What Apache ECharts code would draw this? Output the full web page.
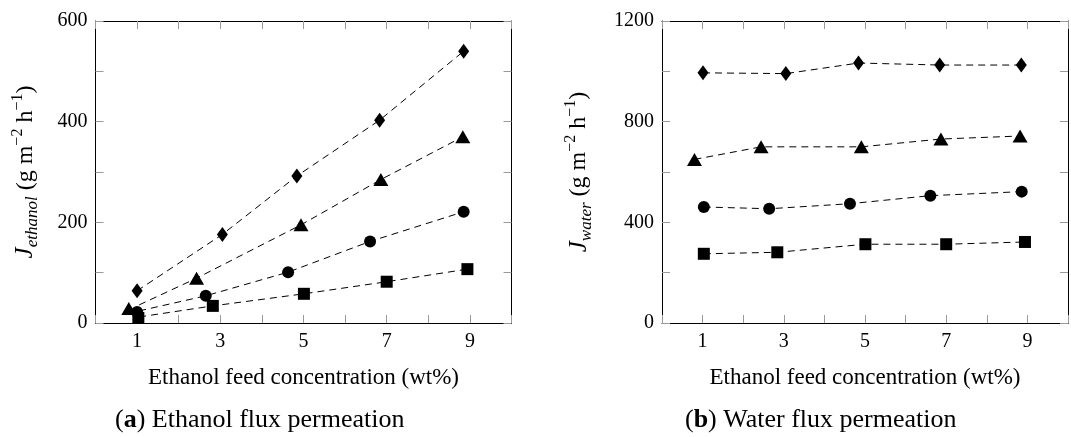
<!DOCTYPE html>
<html>
<head>
<meta charset="utf-8">
<script src="https://cdn.jsdelivr.net/npm/echarts@6/dist/echarts.min.js"></script>
<style>
html,body{margin:0;padding:0;background:#fff;}
#chart{width:1071px;height:437px;}
</style>
</head>
<body>
<div id="chart"></div>
<script>
// ---------- data ----------
// (a) Ethanol flux, g m^-2 h^-1  : [feed wt%, flux]
var ethDiamond  = [[1.0,64],[3.05,176],[4.84,292],[6.83,403],[8.85,540]];
var ethTriangle = [[0.80,29],[2.43,89],[4.94,195],[6.86,285],[8.83,370]];
var ethCircle   = [[1.0,22],[2.65,54],[4.63,101],[6.60,162],[8.85,221]];
var ethSquare   = [[1.03,10],[2.82,34],[5.01,58],[7.0,82],[8.94,107]];
// dashed trend lines of panel (a)
var ethDiamondTrend  = [[1.0,64],[3.05,176],[4.84,292],[6.83,403],[8.85,540]];
var ethTriangleTrend = [[1.05,36],[2.43,89],[4.94,195],[6.86,285],[8.83,370]];
var ethCircleTrend   = [[1.05,24],[2.65,54],[4.63,101],[6.60,162],[8.85,221]];
var ethSquareTrend   = [[1.05,12],[2.82,34],[5.01,58],[7.0,82],[8.94,107]];
// (b) Water flux
var watDiamond  = [[1.01,994],[3.05,991],[4.84,1033],[6.84,1025],[8.85,1025]];
var watTriangle = [[0.80,650],[2.44,700],[4.91,700],[6.87,731],[8.82,743]];
var watCircle   = [[1.03,461],[2.64,454],[4.63,474],[6.61,506],[8.86,522]];
var watSquare   = [[1.03,275],[2.84,281],[5.01,313],[7.0,313],[8.94,322]];
// axis settings / tick labels
var xTickLabels = [1,3,5,7,9];
var ethYLabels = [0,200,400,600];
var watYLabels = [0,400,800,1200];
var xLabel = 'Ethanol feed concentration (wt%)';

var FONT = '"Liberation Serif", "DejaVu Serif", serif';
var TICKC = '#9a9a9a';

function xAx(gi, pos, show){
  return {
    type:'value', gridIndex:gi, position:pos, min:0, max:10, interval:1,
    axisLine:{onZero:false, lineStyle:{color:'#000', width:1}},
    axisTick:{inside:true, length:8, lineStyle:{color:TICKC, width:1}},
    axisLabel:{show:show, margin:9, fontFamily:FONT, fontSize:20, color:'#000',
      formatter:function(v){ return xTickLabels.indexOf(v)>=0 ? String(v) : ''; }},
    splitLine:{show:false},
    name: show ? xLabel : '', nameLocation:'middle', nameGap:43,
    nameTextStyle:{fontFamily:FONT, fontSize:23, color:'#000'}
  };
}
function yAx(gi, pos, show, max, interval, labels, nameRich){
  return {
    type:'value', gridIndex:gi, position:pos, min:0, max:max, interval:interval,
    axisLine:{onZero:false, lineStyle:{color:'#000', width:1}},
    axisTick:{inside:true, length:8, lineStyle:{color:TICKC, width:1}},
    axisLabel:{show:show, margin:8, fontFamily:FONT, fontSize:20, color:'#000',
      formatter:function(v){ return labels.indexOf(v)>=0 ? String(v) : ''; }},
    splitLine:{show:false},
    name: show ? nameRich : '', nameLocation:'middle', nameRotate:90, nameGap: (max>600?67:54),
    nameTextStyle:{fontFamily:FONT, fontSize:24, color:'#000',
      rich:{
        J:{fontFamily:FONT, fontSize:25, fontStyle:'italic', color:'#000', lineHeight:32},
        sub:{fontFamily:FONT, fontSize:17, fontStyle:'italic', color:'#000', lineHeight:15, verticalAlign:'bottom'},
        n:{fontFamily:FONT, fontSize:24, color:'#000', lineHeight:32},
        sup:{fontFamily:FONT, fontSize:16, color:'#000', lineHeight:17, verticalAlign:'top'}
      }}
  };
}

var markers = [
  {sym:'diamond', size:[11,15]},
  {sym:'triangle', size:[15,13]},
  {sym:'circle', size:12},
  {sym:'rect', size:12}
];
var dash = {color:'#000', width:1, type:[7,5]};

function trendSeries(data, xi, yi){
  return {type:'line', data:data, xAxisIndex:xi, yAxisIndex:yi, showSymbol:false, symbol:'none',
    lineStyle:dash, z:2, silent:true, animation:false};
}
function markSeries(data, xi, yi, m){
  return {type:'scatter', data:data, xAxisIndex:xi, yAxisIndex:yi, symbol:m.sym, symbolSize:m.size,
    itemStyle:{color:'#000', opacity:1}, z:3, animation:false};
}
function lineMarkSeries(data, xi, yi, m){
  return {type:'line', data:data, xAxisIndex:xi, yAxisIndex:yi, symbol:m.sym, symbolSize:m.size,
    showAllSymbol:true, itemStyle:{color:'#000', opacity:1}, lineStyle:dash, z:3, animation:false};
}

var ethSets = [ethDiamond, ethTriangle, ethCircle, ethSquare];
var ethTrends = [ethDiamondTrend, ethTriangleTrend, ethCircleTrend, ethSquareTrend];
var watSets = [watDiamond, watTriangle, watCircle, watSquare];

var series = [];
ethTrends.forEach(function(d){ series.push(trendSeries(d,0,0)); });
ethSets.forEach(function(d,i){ series.push(markSeries(d,0,0,markers[i])); });
watSets.forEach(function(d,i){ series.push(lineMarkSeries(d,2,2,markers[i])); });

var option = {
  backgroundColor:'#fff',
  animation:false,
  grid:[
    {left:95.5, top:21, width:416, height:302},
    {left:662, top:21, width:416, height:302}
  ],
  xAxis:[ xAx(0,'bottom',true), xAx(0,'top',false), xAx(1,'bottom',true), xAx(1,'top',false) ],
  yAxis:[
    yAx(0,'left',true,600,100,ethYLabels,'{J|J}{sub|ethanol}{n| (g m}{sup|−2}{n| h}{sup|−1}{n|)}'),
    yAx(0,'right',false,600,100,ethYLabels,''),
    yAx(1,'left',true,1200,200,watYLabels,'{J|J}{sub|water}{n| (g m}{sup|−2}{n| h}{sup|−1}{n|)}'),
    yAx(1,'right',false,1200,200,watYLabels,'')
  ],
  graphic:[
    {type:'text', left:115, top:407, style:{text:'({b|a}) Ethanol flux permeation', fontFamily:FONT, fontSize:26, fill:'#000',
      rich:{b:{fontFamily:FONT, fontSize:26, fontWeight:'bold', fill:'#000'}}}},
    {type:'text', left:685, top:407, style:{text:'({b|b}) Water flux permeation', fontFamily:FONT, fontSize:26, fill:'#000',
      rich:{b:{fontFamily:FONT, fontSize:26, fontWeight:'bold', fill:'#000'}}}}
  ],
  series:series
};
var chart = echarts.init(document.getElementById('chart'), null, {renderer:'canvas'});
chart.setOption(option);
</script>
</body>
</html>
